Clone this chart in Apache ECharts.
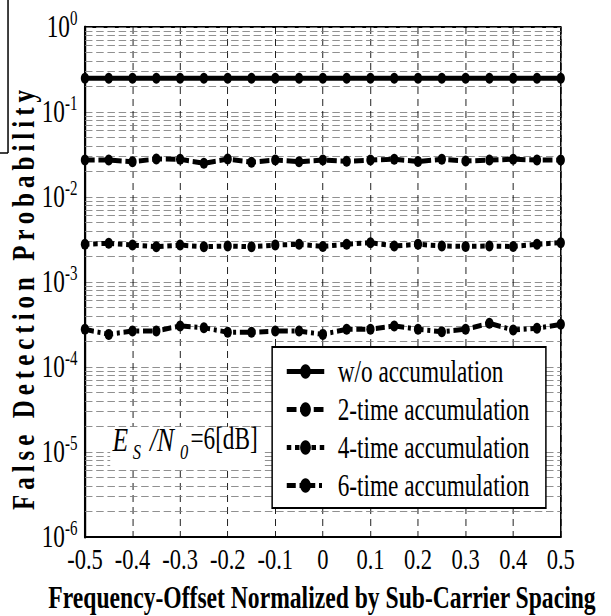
<!DOCTYPE html>
<html>
<head>
<meta charset="utf-8">
<script src="https://cdn.jsdelivr.net/npm/echarts@6/dist/echarts.min.js"></script>
<style>
  html, body { margin: 0; padding: 0; background: #fff; overflow: hidden; }
  #wrap { width: 611px; height: 616px; overflow: hidden; }
  /* the figure is drawn wide and then squeezed horizontally, like the original print */
  #chart { width: 815px; height: 616px; transform: scaleX(0.7497); transform-origin: 0 0; }
</style>
</head>
<body>
<div id="wrap"><div id="chart"></div></div>
<script>
// Normalized frequency offset of each simulated point
const freqOffset = [-0.5, -0.45, -0.4, -0.35, -0.3, -0.25, -0.2, -0.15, -0.1, -0.05, 0,
                    0.05, 0.1, 0.15, 0.2, 0.25, 0.3, 0.35, 0.4, 0.45, 0.5];

// False detection probability for each accumulation setting (Es/N0 = 6 dB)
const pNoAccum = [0.25, 0.25, 0.25, 0.25, 0.25, 0.25, 0.25, 0.25, 0.25, 0.25, 0.25,
                  0.25, 0.25, 0.25, 0.25, 0.25, 0.25, 0.25, 0.25, 0.25, 0.25];
const pAccum2 = [0.0272, 0.0272, 0.0260, 0.0280, 0.0278, 0.0249, 0.0280, 0.0256, 0.0272, 0.0260, 0.0272,
                 0.0263, 0.0272, 0.0278, 0.0261, 0.0278, 0.0265, 0.0272, 0.0278, 0.0272, 0.0272];
const pAccum4 = [0.00278, 0.00285, 0.00272, 0.00260, 0.00272, 0.00260, 0.00265, 0.00260, 0.00272, 0.00278, 0.00262,
                 0.00278, 0.00290, 0.00265, 0.00278, 0.00265, 0.00262, 0.00265, 0.00262, 0.00278, 0.00290];
const pAccum6 = [2.78e-4, 2.42e-4, 2.65e-4, 2.65e-4, 3.04e-4, 2.90e-4, 2.56e-4, 2.56e-4, 2.65e-4, 2.65e-4, 2.42e-4,
                 2.78e-4, 2.78e-4, 3.04e-4, 2.78e-4, 2.60e-4, 2.78e-4, 3.27e-4, 2.72e-4, 2.85e-4, 3.18e-4];

const seriesNames = ['w/o accumulation', '2-time accumulation', '4-time accumulation', '6-time accumulation'];

// Axis ranges
const xMin = -0.5, xMax = 0.5, xStep = 0.1;
const yMin = 1e-6, yMax = 1;
const decadeMin = -6, decadeMax = 0;

// Minor (2..9 x 10^n) grid lines of the log axis
const minorMantissas = [2, 3, 4, 5, 6, 7, 8, 9];
const minorExponents = [-6, -5, -4, -3, -2, -1];

const SERIF = '"Liberation Serif", "Times New Roman", serif';

// grid lines are placed on a helper axis that runs in decades (log10 units)
const minorGrid = [];
minorExponents.forEach(e => minorMantissas.forEach(m => minorGrid.push({ yAxis: e + Math.log10(m) })));

const pairs = ys => freqOffset.map((x, i) => [x, ys[i]]);

function curve(name, ys, dash, width) {
  return {
    name: name,
    type: 'line',
    yAxisIndex: 0,
    data: pairs(ys),
    symbol: 'circle',
    symbolSize: 11,
    z: 3,
    itemStyle: { color: '#000', borderWidth: 0 },
    lineStyle: { color: '#000', width: width, type: dash, cap: 'butt' },
    emphasis: { disabled: true },
    animation: false
  };
}

const spaced = 'False Detection Probability'
  .split(' ').map(w => w.split('').join('\u2009')).join('\u2009 \u2009');

const chart = echarts.init(document.getElementById('chart'), null, { renderer: 'svg' });

chart.setOption({
  backgroundColor: '#fff',
  animation: false,
  grid: {
    left: 113.3, right: 67, top: 27, bottom: 79,
    show: true, borderColor: '#000', borderWidth: 2, backgroundColor: '#fff'
  },
  xAxis: {
    type: 'value',
    min: xMin, max: xMax, interval: xStep,
    axisLine: { onZero: false, lineStyle: { color: '#000', width: 2 } },
    axisTick: { show: false },
    axisLabel: {
      margin: 7,
      color: '#000',
      fontFamily: SERIF,
      fontSize: 30,
      formatter: v => String(Math.round(v * 10) / 10)
    },
    splitLine: { show: true, lineStyle: { color: '#000', width: 1, type: [7, 5] } }
  },
  yAxis: [
    {
      type: 'log',
      logBase: 10,
      min: yMin, max: yMax,
      splitNumber: 6,
      axisLine: { onZero: false, lineStyle: { color: '#000', width: 3 } },
      axisTick: { show: false },
      axisLabel: {
        margin: 10,
        formatter: v => '{b|10}{s|' + Math.round(Math.log10(v)) + '}',
        rich: {
          b: { fontFamily: SERIF, fontSize: 31, color: '#000', lineHeight: 38 },
          s: { fontFamily: SERIF, fontSize: 20, color: '#000', lineHeight: 14, verticalAlign: 'top' }
        }
      },
      splitLine: { show: false }
    },
    {
      type: 'value',
      min: decadeMin, max: decadeMax, interval: 1,
      position: 'left',
      axisLine: { show: false },
      axisTick: { show: false },
      axisLabel: { show: false },
      splitLine: { show: true, lineStyle: { color: '#808080', width: 1, type: [10, 5] } }
    }
  ],
  legend: {
    data: seriesNames,
    orient: 'vertical',
    left: 363, top: 347,
    padding: [8, 22, 6, 17],
    itemGap: 5,
    itemWidth: 50,
    itemHeight: 18,
    backgroundColor: '#fff',
    borderColor: '#000',
    borderWidth: 2,
    borderRadius: 0,
    selectedMode: false,
    itemStyle: { borderWidth: 0 },
    lineStyle: { width: 5, color: '#000' },
    textStyle: { fontFamily: SERIF, fontSize: 31, color: '#000', lineHeight: 33, padding: [0, 0, 0, 13] }
  },
  series: [
    {
      name: 'minor grid',
      type: 'line',
      yAxisIndex: 1,
      data: [],
      z: 1,
      silent: true,
      animation: false,
      markLine: {
        z: 1,
        silent: true,
        animation: false,
        symbol: ['none', 'none'],
        label: { show: false },
        lineStyle: { color: '#808080', width: 1, type: [10, 5] },
        emphasis: { disabled: true },
        data: minorGrid
      }
    },
    curve(seriesNames[0], pNoAccum, 'solid', 5),
    curve(seriesNames[1], pAccum2, [13, 5], 5),
    curve(seriesNames[2], pAccum4, [6, 5], 5),
    curve(seriesNames[3], pAccum6, [12, 5, 4, 5], 5)
  ],
  graphic: [
    // bracket fragment at the upper-left edge
    { type: 'line', z: 20, shape: { x1: 10.7, y1: 0, x2: 10.7, y2: 153 }, style: { stroke: '#000', lineWidth: 2 } },
    { type: 'line', z: 20, shape: { x1: 0, y1: 153, x2: 10.7, y2: 153 }, style: { stroke: '#000', lineWidth: 1.5 } },
    // axis titles
    {
      type: 'text', z: 20, x: 429.5, y: 597,
      style: { text: 'Frequency-Offset Normalized by Sub-Carrier Spacing', fill: '#000',
               font: 'bold 31.5px ' + SERIF, align: 'center', verticalAlign: 'middle' }
    },
    {
      type: 'text', z: 20, x: 31, y: 300, rotation: Math.PI / 2, scaleY: 1.7,
      style: { text: spaced, fill: '#000', font: 'bold 25px ' + SERIF, align: 'center', verticalAlign: 'middle' }
    },
    // Es/N0 annotation on a white patch
    { type: 'rect', z: 20, shape: { x: 147, y: 427, width: 202, height: 43 }, style: { fill: '#fff' } },
    { type: 'text', z: 21, x: 150, y: 439, style: { text: 'E', fill: '#000', font: 'italic 34px ' + SERIF, verticalAlign: 'middle' } },
    { type: 'text', z: 21, x: 177, y: 452, style: { text: 'S', fill: '#000', font: 'italic 22px ' + SERIF, verticalAlign: 'middle' } },
    { type: 'text', z: 21, x: 200, y: 439, style: { text: '/N', fill: '#000', font: 'italic 34px ' + SERIF, verticalAlign: 'middle' } },
    { type: 'text', z: 21, x: 240, y: 452, style: { text: '0', fill: '#000', font: 'italic 22px ' + SERIF, verticalAlign: 'middle' } },
    { type: 'text', z: 21, x: 254, y: 439, style: { text: '=6[dB]', fill: '#000', font: '31px ' + SERIF, verticalAlign: 'middle' } }
  ]
});
</script>
</body>
</html>
